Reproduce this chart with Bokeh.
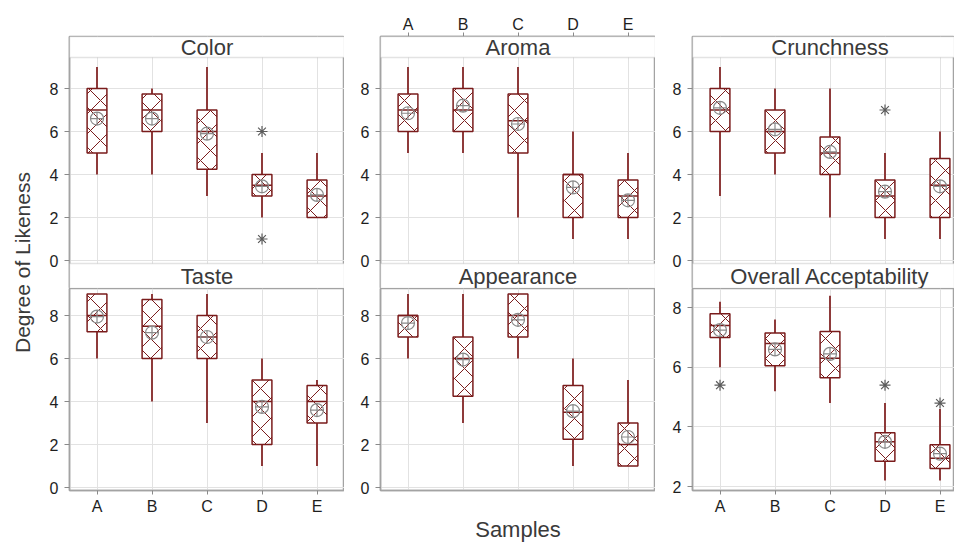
import math
from bokeh.plotting import figure
from bokeh.layouts import row, column
from bokeh.models import (Range1d, FixedTicker, LinearAxis, Grid, BoxAnnotation,
                          Label, ColumnDataSource)
from bokeh.embed import file_html
from bokeh.resources import INLINE

# ---------------- data ----------------
samples = ["A", "B", "C", "D", "E"]
xpos = [1, 2, 3, 4, 5]

color_lo = [4, 4, 3, 2, 2]
color_q1 = [5, 6, 4.25, 3, 2]
color_med = [7, 7, 6, 3.5, 3]
color_q3 = [8, 7.75, 7, 4, 3.75]
color_hi = [9, 8, 9, 5, 5]
color_mean = [6.6, 6.6, 5.9, 3.45, 3.05]
color_out_x = [4, 4]
color_out_y = [6, 1]

aroma_lo = [5, 5, 2, 1, 1]
aroma_q1 = [6, 6, 5, 2, 2]
aroma_med = [7, 7, 6.5, 4, 3]
aroma_q3 = [7.75, 8, 7.75, 4, 3.75]
aroma_hi = [9, 9, 9, 6, 5]
aroma_mean = [6.85, 7.2, 6.35, 3.4, 2.8]
aroma_out_x = []
aroma_out_y = []

crunch_lo = [3, 4, 2, 1, 1]
crunch_q1 = [6, 5, 4, 2, 2]
crunch_med = [7, 6, 5, 3, 3.5]
crunch_q3 = [8, 7, 5.75, 3.75, 4.75]
crunch_hi = [9, 8, 8, 5, 6]
crunch_mean = [7.1, 6.1, 5.05, 3.2, 3.45]
crunch_out_x = [4]
crunch_out_y = [7]

taste_lo = [6, 4, 3, 1, 1]
taste_q1 = [7.25, 6, 6, 2, 3]
taste_med = [8, 7.5, 7, 4, 4]
taste_q3 = [9, 8.75, 8, 5, 4.75]
taste_hi = [9, 9, 9, 6, 5]
taste_mean = [7.95, 7.2, 7.0, 3.75, 3.6]
taste_out_x = []
taste_out_y = []

appear_lo = [6, 3, 6, 1, 1]
appear_q1 = [7, 4.25, 7, 2.25, 1]
appear_med = [8, 6, 8, 3.5, 2]
appear_q3 = [8, 7, 9, 4.75, 3]
appear_hi = [9, 9, 9, 6, 5]
appear_mean = [7.65, 5.95, 7.8, 3.55, 2.35]
appear_out_x = []
appear_out_y = []

overall_lo = [6.0, 5.2, 4.8, 2.2, 2.2]
overall_q1 = [7.0, 6.05, 5.65, 2.85, 2.6]
overall_med = [7.4, 6.8, 6.3, 3.5, 2.95]
overall_q3 = [7.8, 7.15, 7.2, 3.8, 3.4]
overall_hi = [8.2, 7.6, 8.4, 4.8, 4.6]
overall_mean = [7.25, 6.6, 6.45, 3.5, 3.1]
overall_out_x = [1, 4, 5]
overall_out_y = [5.4, 5.4, 4.8]

ticks_std = [0, 2, 4, 6, 8]
ticks_overall = [2, 4, 6, 8]

# ---------------- style ----------------
MAROON = "#7a1c1c"
WHISK = "#8e3a3a"
FRAME = "#a3a3a3"
GRIDC = "#e2e2e2"
TXT = "#1e1e1e"
TTL = "#3a3a3a"
FONT = "Liberation Sans"
BOXW = 0.36
TOP_STRIP = 21
LOW_STRIP = 25
TOP_FH = TOP_STRIP + 206 + LOW_STRIP   # top-row frame (holds both strips)
BOT_FH = 202                            # bottom-row frame
TOTAL_H = 541


def make_panel(strips, lo, q1, med, q3, hi, mean, ox, oy, yticks, ppu,
               y0px, fh, fw, mbl, mbr, mbt, mbb,
               xaxis_loc=None, xlabel=None, xlabel_standoff=0):
    # y0px: pixel distance between the frame bottom and the first y tick
    y_start = yticks[0] - y0px / ppu
    y_end = y_start + fh / ppu
    x_end = 0.5 + fw / 55.0
    p = figure(frame_width=fw, frame_height=fh,
               x_range=Range1d(0.5, x_end), y_range=Range1d(y_start, y_end),
               x_axis_location=None, y_axis_location=None,
               toolbar_location=None, output_backend="svg",
               min_border_left=mbl, min_border_right=mbr,
               min_border_top=mbt, min_border_bottom=mbb,
               outline_line_color=FRAME, outline_line_width=1.5,
               background_fill_color="white", border_fill_color="white")
    p.center = []
    p.add_layout(Grid(dimension=0, ticker=FixedTicker(ticks=xpos),
                      grid_line_color=GRIDC, grid_line_width=1))
    p.add_layout(Grid(dimension=1, ticker=FixedTicker(ticks=yticks),
                      grid_line_color=GRIDC, grid_line_width=1))

    yax = LinearAxis(ticker=FixedTicker(ticks=yticks),
                     axis_line_color=FRAME, axis_line_width=1.5,
                     major_tick_line_color="#8a8a8a", major_tick_out=5,
                     major_tick_in=0, minor_tick_line_color=None,
                     major_label_text_font=FONT,
                     major_label_text_font_size="16px",
                     major_label_text_color=TXT, major_label_standoff=6)
    p.add_layout(yax, "left")

    if xaxis_loc is not None:
        if xlabel:
            xax = LinearAxis(ticker=FixedTicker(ticks=[]),
                             axis_line_color=FRAME, axis_line_width=1.5,
                             major_tick_out=0, major_tick_in=0,
                             minor_tick_line_color=None,
                             major_label_standoff=0,
                             axis_label=xlabel, axis_label_text_font=FONT,
                             axis_label_text_font_size="22px",
                             axis_label_text_font_style="normal",
                             axis_label_text_color=TTL,
                             axis_label_standoff=xlabel_standoff)
        else:
            xax = LinearAxis(ticker=FixedTicker(ticks=xpos),
                             major_label_overrides={i + 1: s for i, s in enumerate(samples)},
                             axis_line_color=FRAME, axis_line_width=1.5,
                             major_tick_line_color="#8a8a8a", major_tick_out=4,
                             major_tick_in=0, minor_tick_line_color=None,
                             major_label_text_font=FONT,
                             major_label_text_font_size="16px",
                             major_label_text_color=TXT,
                             major_label_standoff=0 if xaxis_loc == "above" else 3)
        p.add_layout(xax, xaxis_loc)

    src = ColumnDataSource(dict(x=xpos, lo=lo, q1=q1, med=med, q3=q3, hi=hi,
                                mean=mean,
                                xl=[x - BOXW / 2 for x in xpos],
                                xr=[x + BOXW / 2 for x in xpos]))
    p.segment(x0="x", y0="lo", x1="x", y1="q1", source=src,
              line_color=WHISK, line_width=2)
    p.segment(x0="x", y0="q3", x1="x", y1="hi", source=src,
              line_color=WHISK, line_width=2)
    p.vbar(x="x", width=BOXW, bottom="q1", top="q3", source=src,
           fill_color="white", line_color=MAROON, line_width=1.5,
           hatch_pattern="diagonal_cross", hatch_color=MAROON,
           hatch_scale=20, hatch_weight=1)
    p.segment(x0="xl", y0="med", x1="xr", y1="med", source=src,
              line_color=MAROON, line_width=1.5)
    p.scatter(x="x", y="mean", source=src, marker="circle_cross", size=13,
              fill_color=None, line_color="#8a8a8a", line_width=1.2)
    if len(ox):
        p.scatter(x=ox, y=oy, marker="asterisk", size=11,
                  line_color="#5c5c5c", line_width=1.2)

    # title strips: (text, pixel offset of strip bottom from frame bottom, height)
    for t, b_px, h_px in strips:
        sb = y_start + b_px / ppu
        st = sb + h_px / ppu
        p.add_layout(BoxAnnotation(bottom=sb, top=st, left=0.5, right=x_end,
                                   fill_color="white", fill_alpha=1,
                                   line_color=FRAME, line_width=1.5))
        p.add_layout(Label(x=3, y=(sb + st) / 2, text=t,
                           text_align="center", text_baseline="middle",
                           text_font=FONT, text_font_size="22px",
                           text_color=TTL))
    return p


def top_strips(upper, lower):
    return [(upper, TOP_FH - TOP_STRIP, TOP_STRIP), (lower, 0, LOW_STRIP)]


f1 = make_panel(top_strips("Color", "Taste"), color_lo, color_q1, color_med,
                color_q3, color_hi, color_mean, color_out_x, color_out_y,
                ticks_std, 21.5, 3 + LOW_STRIP, TOP_FH, 275, 29, 0, 36, 0)
f2 = make_panel(top_strips("Aroma", "Appearance"), aroma_lo, aroma_q1,
                aroma_med, aroma_q3, aroma_hi, aroma_mean, aroma_out_x,
                aroma_out_y, ticks_std, 21.5, 3 + LOW_STRIP, TOP_FH, 275, 36,
                0, 36, 0, xaxis_loc="above")
f3 = make_panel(top_strips("Crunchness", "Overall Acceptability"), crunch_lo,
                crunch_q1, crunch_med, crunch_q3, crunch_hi, crunch_mean,
                crunch_out_x, crunch_out_y, ticks_std, 21.5, 3 + LOW_STRIP,
                TOP_FH, 262, 37, 0, 36, 0)
f4 = make_panel([], taste_lo, taste_q1, taste_med, taste_q3, taste_hi,
                taste_mean, taste_out_x, taste_out_y, ticks_std, 21.5, 3,
                BOT_FH, 275, 29, 0, 0, 51, xaxis_loc="below")
f5 = make_panel([], appear_lo, appear_q1, appear_med, appear_q3, appear_hi,
                appear_mean, appear_out_x, appear_out_y, ticks_std, 21.5, 3,
                BOT_FH, 275, 36, 0, 0, 51, xaxis_loc="below",
                xlabel="Samples", xlabel_standoff=26)
f6 = make_panel([], overall_lo, overall_q1, overall_med, overall_q3,
                overall_hi, overall_mean, overall_out_x, overall_out_y,
                ticks_overall, 29.8, 4, BOT_FH, 262, 37, 0, 0, 51,
                xaxis_loc="below")

lab = figure(frame_width=40, frame_height=TOTAL_H, x_range=Range1d(0, 40),
             y_range=Range1d(0, TOTAL_H), x_axis_location=None,
             y_axis_location=None, toolbar_location=None, output_backend="svg",
             min_border_left=0, min_border_right=0, min_border_top=0,
             min_border_bottom=0, outline_line_color=None,
             background_fill_color="white", border_fill_color="white")
lab.center = []
lab.add_layout(Label(x=22, y=TOTAL_H - 262, text="Degree of Likeness",
                     angle=math.pi / 2, text_align="center",
                     text_baseline="middle", text_font=FONT,
                     text_font_size="21px", text_color=TTL))

layout = row(lab, column(row(f1, f2, f3), row(f4, f5, f6)))

open("out.html", "w").write(file_html(layout, INLINE))
